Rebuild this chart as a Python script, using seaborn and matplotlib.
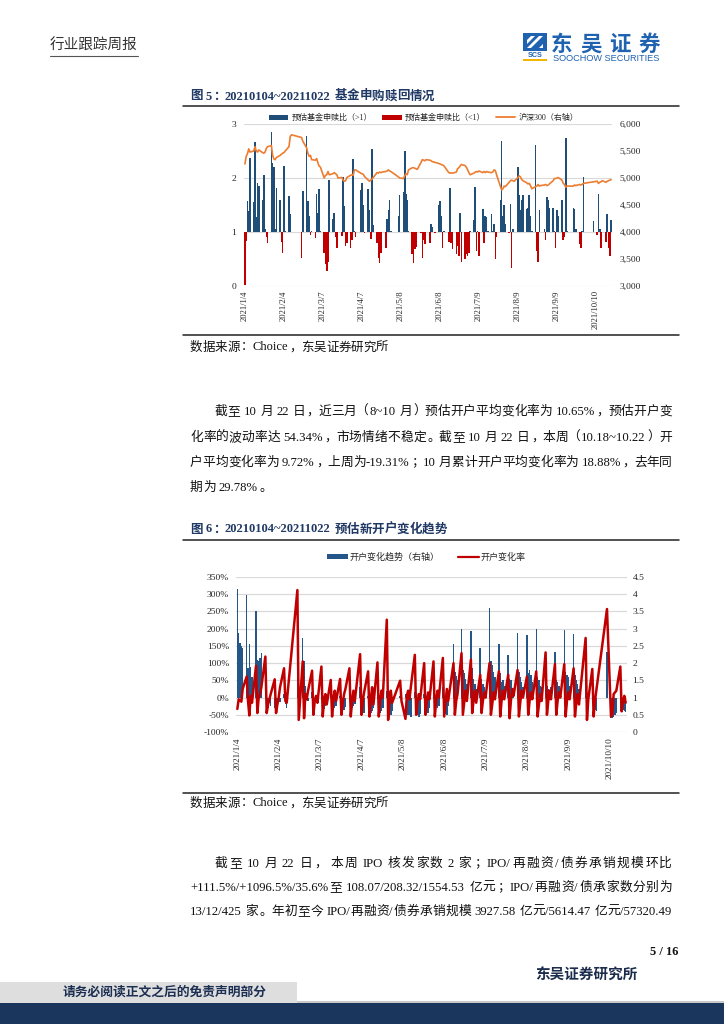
import numpy as np
import pandas as pd
import matplotlib
matplotlib.use("Agg")
import matplotlib.pyplot as plt
import seaborn as sns
from matplotlib.patches import Rectangle, Patch, Polygon
from matplotlib.lines import Line2D
from matplotlib.ticker import FuncFormatter

# ---------------- data ----------------
start_date = "2021-01-04"
end_date = "2021-10-22"
market_holidays = ["2021-02-11", "2021-02-12", "2021-02-15", "2021-02-16", "2021-02-17",
                   "2021-04-05", "2021-05-03", "2021-05-04", "2021-05-05", "2021-06-14",
                   "2021-09-20", "2021-09-21", "2021-10-01", "2021-10-04", "2021-10-05",
                   "2021-10-06", "2021-10-07"]
tick_every_days = 31

# Fig 5: estimated fund subscription/redemption ratio (left axis, baseline 1)
fund_ratio = [
    0.02, 0.84, 1.58, 1.38, 2.37, 1.55, 2.67, 1.28, 1.90, 1.85, 1.60, 2.05, 1.05, 0.90, 0.80, 2.85, 2.27, 2.20, 1.05, 1.81,
    1.60, 0.82, 0.62, 2.22, 1.02, 1.66, 1.33, 1.00, 0.52, 1.76, 2.77, 1.58, 1.30, 0.95, 1.02,
    0.88, 1.70, 1.35, 1.80, 1.02, 0.62, 0.40, 0.27, 0.45, 1.97, 1.25, 1.35, 0.90, 0.70, 1.00, 0.92, 2.02, 1.48, 0.75, 0.80, 0.70, 0.85, 2.35,
    1.02, 0.90, 1.78, 1.90, 1.50, 0.98, 1.80, 1.40, 0.87, 2.53, 1.13, 0.80, 0.52, 0.42, 0.62, 1.00, 0.70, 1.25, 1.40, 1.60, 1.02,
    1.30, 1.68, 1.75, 2.50, 1.70, 1.60, 1.02, 0.60, 0.42, 0.68, 0.72, 1.00, 0.98, 0.52, 0.85, 0.78, 1.00, 0.80,
    1.14, 1.10, 1.00, 0.98, 1.50, 1.58, 1.30, 0.70, 1.02, 0.82, 1.82, 0.80, 0.68, 0.60, 0.75, 0.55, 1.35, 0.45, 0.50, 0.60, 0.55,
    0.62, 1.02, 1.22, 1.84, 0.65, 1.02, 0.55, 1.42, 0.80, 1.30, 1.28, 1.02, 1.34, 1.02, 1.15, 0.50, 0.90, 1.60, 2.69, 1.30, 1.50, 1.15,
    0.98, 1.52, 0.33, 1.05, 1.00, 2.20, 1.68, 1.40, 1.60, 1.68, 1.42, 1.45, 1.68, 1.30, 1.02, 2.62, 0.65, 0.45, 1.40, 1.00, 1.05, 0.85,
    1.65, 1.60, 1.45, 1.45, 1.02, 0.70, 1.40, 1.30, 1.60, 0.85, 0.90, 2.75, 1.02, 1.45, 1.42, 1.05, 0.78, 0.70, 1.02, 2.02,
    1.20, 0.95, 1.70, 1.05, 0.70, 1.00, 0.82, 1.33, 0.70, 0.55, 1.22,
]
# CSI 300 close (right axis)
hs300 = [
    5260, 5400, 5450, 5540, 5480, 5500, 5580, 5500, 5480, 5520, 5470, 5460, 5480, 5550, 5580, 5600, 5420, 5350, 5340, 5380,
    5420, 5440, 5460, 5470, 5500, 5580, 5770, 5800, 5750, 5680, 5560, 5460, 5400, 5420, 5340,
    5330, 5360, 5280, 5220, 5200, 5000, 5050, 5060, 5120, 5060, 5080, 5100, 5080, 5060, 5000, 5010, 4960, 4940, 4950, 5010, 5050, 5060, 5050,
    5150, 5150, 5090, 5080, 5070, 5030, 4960, 4940, 4960, 4980, 5010, 5100, 5090, 5110, 5100, 5110, 5120, 5130, 5150, 5130, 5120,
    5020, 5000, 4990, 5040, 5080, 5060, 5150, 5190, 5190, 5180, 5170, 5160, 5290, 5340, 5330, 5320, 5340, 5330,
    5320, 5300, 5300, 5290, 5270, 5260, 5250, 5240, 5230, 5100, 5090, 5095, 5090, 5110, 5170, 5190, 5220, 5250, 5230, 5200, 5150,
    5100, 5060, 5090, 5110, 5120, 5110, 5130, 5100, 5120, 5100, 5120, 5110, 5100, 5110, 5150, 5140, 5060, 4850, 4780, 4800, 4850, 4840,
    4920, 4950, 4960, 4950, 4940, 5010, 5040, 5020, 4970, 4950, 4910, 4890, 4900, 4860, 4800, 4840, 4850, 4880, 4850, 4860, 4870, 4880,
    4860, 4870, 4890, 4950, 4990, 4990, 5000, 5010, 4960, 4900, 4880, 4830, 4850, 4850, 4870, 4860, 4880, 4870, 4880, 4900,
    4930, 4940, 4900, 4920, 4930, 4950, 4920, 4940, 4950, 4960, 4970,
]
# Fig 6: new-account trend (right axis, baseline 1)
open_trend = [
    4.16, 2.87, 2.58, 2.49, 2.45, 3.98, 1.85, 2.55, 1.90, 1.60, 3.52, 2.10, 2.05, 2.15, 2.28, 1.05, 0.80, 0.70, 0.85, 0.75,
    0.70, 0.68, 0.75, 0.85, 0.88, 1.10, 0.80, 0.70, 3.41, 1.30, 2.73, 2.05, 1.35, 1.10, 0.90,
    1.15, 0.85, 0.80, 0.90, 0.82, 1.05, 0.70, 0.68, 0.75, 0.80, 1.10, 0.65, 0.62, 0.70, 0.75, 1.05, 0.60, 0.58, 0.65, 0.72, 1.10, 0.62, 0.70,
    0.75, 0.80, 1.30, 0.70, 0.60, 0.55, 1.05, 0.58, 0.55, 0.62, 0.70, 1.10, 0.62, 0.55, 0.60, 0.70, 1.20, 0.65, 0.55, 0.48, 0.60,
    1.05, 0.80, 1.10, 0.55, 0.50, 0.48, 0.45, 1.15, 0.55, 0.48, 0.45, 0.52, 1.10, 0.75, 0.65, 0.55, 0.70, 1.15,
    0.80, 0.72, 0.70, 0.75, 1.30, 0.60, 0.52, 0.48, 0.75, 2.56, 1.75, 1.62, 1.50, 2.99, 1.80, 1.70, 1.55, 1.40, 2.94, 1.85, 1.55,
    1.40, 1.25, 2.44, 1.55, 1.40, 1.30, 1.20, 3.60, 2.05, 1.95, 1.75, 1.60, 2.56, 1.70, 1.45, 1.50, 1.35, 2.24, 1.55, 1.50, 1.25, 1.20,
    2.87, 1.75, 1.60, 1.45, 1.30, 2.83, 1.70, 1.80, 1.65, 1.45, 2.99, 1.60, 1.50, 1.35, 1.30, 1.55, 1.35, 1.25, 1.20, 1.30, 2.32, 1.50,
    1.45, 1.35, 1.20, 2.97, 1.75, 1.65, 1.60, 1.35, 2.85, 1.65, 1.50, 1.40, 1.25, 1.85, 0.80, 0.70, 1.10, 0.70, 0.65, 0.62,
    2.31, 0.42, 0.40, 0.45, 0.48, 0.55, 0.70, 0.60, 0.65, 0.62, 0.58,
]
# Fig 6: new-account change rate, % (left axis)
open_rate = [
    -33, -5, -8, -12, 25, 61, -10, -52, 5, -15, 92, -45, 0, 10, 30, 119, -45, -20, -5, 10,
    53, -45, -20, 0, 30, 85, -10, -15, 312, -65, 105, -60, 10, -5, 20,
    78, -50, -10, 5, -15, 90, -55, -5, 10, -20, 51, -55, 0, 20, -10, 54, -50, -15, 10, 25, 85, -55, -10,
    20, -10, 126, -50, -10, 15, 76, -55, -5, 30, -20, 102, -55, -10, 20, 0, 226, -65, -10, 20, -15,
    49, -10, -62, 5, 20, -5, 30, 124, -50, -15, 10, -5, 100, -50, -10, 15, -5, 105,
    -55, -10, 20, 0, 115, -55, -15, 25, -10, 100, -50, -10, 10, 129, -50, -15, 20, -10, 110, -45, -10,
    20, -15, 66, -45, -10, 15, 0, 100, -50, -20, 15, -5, 76, -55, -10, 20, -5, 66, -60, -10, 25, 5,
    80, -55, -15, 20, 0, 61, -50, -10, 15, -5, 76, -55, -20, 10, -10, 131, -50, -10, 20, -5, 97, -50,
    -10, 15, 0, 97, -55, -10, 15, -5, 85, -55, -15, 10, -20, 173, -65, -5, 83, -55, -10, 20,
    257, -55, -50, 10, 15, 20, 90, -40, -10, 5, -15,
]

fig5_title = "图 5：20210104~20211022 基金申购赎回情况"
fig6_title = "图 6：20210104~20211022 预估新开户变化趋势"
fig5_legend = ["预估基金申赎比（>1）", "预估基金申赎比（<1）", "沪深300（右轴）"]
fig6_legend = ["开户变化趋势（右轴）", "开户变化率"]
source_text = "数据来源：Choice，东吴证券研究所"
para1 = ["截至 10 月 22 日，近三月（8~10 月）预估开户平均变化率为 10.65%，预估开户变",
         "化率的波动率达 54.34%，市场情绪不稳定。截至 10 月 22 日，本周（10.18~10.22）开",
         "户平均变化率为 9.72%，上周为-19.31%；10 月累计开户平均变化率为 18.88%，去年同",
         "期为 29.78%。"]
para2 = ["截至 10 月 22 日， 本周 IPO 核发家数 2 家；IPO/再融资/债券承销规模环比",
         "+111.5%/+1096.5%/35.6%至 108.07/208.32/1554.53 亿元；IPO/再融资/债承家数分别为",
         "13/12/425 家。年初至今 IPO/再融资/债券承销规模 3927.58 亿元/5614.47 亿元/57320.49"]

# ---------------- style ----------------
sns.set_theme(style="white")
SERIF = "Liberation Serif"
CJK = "Noto Sans CJK SC"
plt.rcParams["font.family"] = [SERIF, CJK, "DejaVu Sans"]
plt.rcParams["axes.unicode_minus"] = False

NAVY = "#1f4e79"
NAVY2 = "#24568a"
RED = "#c00000"
ORANGE = "#ed7d31"
GRID = "#d9d9d9"
TXT = "#262626"
TITLE = "#1f3864"

W, H = 724, 1024
fig = plt.figure(figsize=(W / 100, H / 100), dpi=100)
fig.patch.set_facecolor("white")
renderer = fig.canvas.get_renderer()


def fx(x):
    return x / W


def fy(y):
    return 1 - y / H


def hline(x0, x1, y, color="#222222", lw=1.1):
    fig.add_artist(Line2D([fx(x0), fx(x1)], [fy(y), fy(y)], transform=fig.transFigure, color=color, lw=lw))


def rect(x0, y0, x1, y1, color):
    fig.add_artist(Rectangle((fx(x0), fy(y1)), (x1 - x0) / W, (y1 - y0) / H,
                             transform=fig.transFigure, facecolor=color, edgecolor="none", lw=0))


def is_cjk(ch):
    return ord(ch) >= 0x2E80


def tokenize(s):
    toks, buf, buf_sp, sp = [], "", False, False
    for ch in s:
        if ch == " ":
            if buf:
                toks.append((buf, buf_sp))
                buf = ""
            sp = True
        elif is_cjk(ch):
            if buf:
                toks.append((buf, buf_sp))
                buf = ""
            toks.append((ch, sp))
            sp = False
        else:
            if not buf:
                buf_sp = sp
                sp = False
            buf += ch
    if buf:
        toks.append((buf, buf_sp))
    return toks


def text_line(s, x0, x1, yc, size=9.2, justify=True, color="#111111", weight="normal"):
    em = size * 100 / 72
    toks = tokenize(s)
    widths = []
    for t, sp in toks:
        if is_cjk(t[0]):
            widths.append(em)
        else:
            tt = fig.text(0, 0, t, fontsize=size, family=SERIF, weight=weight)
            widths.append(tt.get_window_extent(renderer).width + 0.6)
            tt.remove()
    spw = 0.25 * em
    natural = sum(widths) + spw * sum(1 for _, sp in toks if sp)
    gap = (x1 - x0 - natural) / (len(toks) - 1) if (justify and len(toks) > 1) else 0.0
    x = x0
    base = yc + 0.36 * em
    for (t, sp), w in zip(toks, widths):
        if sp:
            x += spw
        if is_cjk(t[0]):
            if t in "，。；：、":
                xp, ha = x + 0.08 * em, "left"
            elif t == "（":
                xp, ha = x + 0.92 * em, "right"
            elif t == "）":
                xp, ha = x + 0.08 * em, "left"
            else:
                xp, ha = x + 0.5 * em, "center"
            fig.text(fx(xp), fy(base), t, fontsize=size, family=CJK, ha=ha, va="baseline",
                     color=color, weight=weight)
        else:
            fig.text(fx(x), fy(base), t, fontsize=size, family=SERIF, ha="left", va="baseline",
                     color=color, weight=weight)
        x += w + gap


# ---------------- dates ----------------
day0 = pd.Timestamp(start_date)
dates = pd.bdate_range(start_date, end_date)
dates = dates[~dates.isin(pd.to_datetime(market_holidays))]
xd = np.asarray((dates - day0).days, dtype=float)
span = (pd.Timestamp(end_date) - day0).days
tick_pos = np.arange(0, span, tick_every_days)
tick_dates = day0 + pd.to_timedelta(tick_pos, unit="D")
tick_lab = [f"{d.year}/{d.month}/{d.day}" for d in tick_dates]

# ---------------- header ----------------
fig.text(fx(50), fy(46), "行业跟踪周报", fontsize=10.5, family=CJK, ha="left", va="center", color="#333333")
hline(50, 138, 56, color="#555555", lw=0.8)

# logo
LOGO = "#1f62b0"
rect(523, 33, 547, 51, LOGO)
fig.add_artist(Polygon([[fx(527), fy(48)], [fx(531), fy(48)], [fx(543), fy(36)], [fx(539), fy(36)]],
                       closed=True, transform=fig.transFigure, facecolor="white", edgecolor="none"))
fig.add_artist(Polygon([[fx(527), fy(40)], [fx(531), fy(36)], [fx(535), fy(36)], [fx(527), fy(44)]],
                       closed=True, transform=fig.transFigure, facecolor="white", edgecolor="none"))
fig.add_artist(Polygon([[fx(543), fy(44)], [fx(543), fy(48)], [fx(539), fy(48)]],
                       closed=True, transform=fig.transFigure, facecolor="white", edgecolor="none"))
fig.text(fx(535), fy(55.5), "SCS", fontsize=5.2, family="Liberation Sans", weight="bold",
         ha="center", va="center", color=LOGO)
rect(523, 59, 547, 61, "#f2b600")
for i, ch in enumerate("东吴证券"):
    fig.text(fx(562 + 29 * i), fy(44), ch, fontsize=15.5, family=CJK, weight="bold",
             ha="center", va="center", color=LOGO)
fig.text(fx(606), fy(58.5), "SOOCHOW SECURITIES", fontsize=6.6, family="Liberation Sans",
         ha="center", va="center", color=LOGO)

# ---------------- figure 5 ----------------
text_line(fig5_title, 190, 0, 95, size=9, justify=False, color=TITLE, weight="bold")
hline(183, 679, 106)

ax1 = fig.add_axes([fx(243.7), fy(286), (612.3 - 243.7) / W, (286 - 124) / H])
r = np.asarray(fund_ratio, dtype=float)
bar_colors = np.where(r >= 1, NAVY, RED)
ax1r = ax1.twinx()
ax1.bar(xd, r - 1, bottom=1, width=1.25, color=bar_colors, linewidth=0)
ax1.set_xlim(-1, span + 1)
ax1.set_ylim(0, 3)
ax1.set_yticks([0, 1, 2, 3])
ax1.yaxis.tick_left()
ax1.yaxis.grid(True, color=GRID, lw=0.8)
ax1.set_axisbelow(True)
ax1.set_xticks(tick_pos)
ax1.set_xticklabels(tick_lab, rotation=90, fontsize=6.2, family=SERIF, color=TXT)
ax1.tick_params(axis="x", length=0, pad=3)
ax1.tick_params(axis="y", length=0, pad=5.5, labelsize=6.8, labelcolor=TXT)
for s in ax1.spines.values():
    s.set_visible(False)

sns.lineplot(x=xd, y=np.asarray(hs300, dtype=float), ax=ax1r, color=ORANGE, lw=1.2)
ax1r.yaxis.tick_right()
ax1r.set_xlim(-1, span + 1)
ax1r.set_ylim(3000, 6000)
ax1r.set_yticks(np.arange(3000, 6001, 500))
ax1r.yaxis.set_major_formatter(FuncFormatter(lambda v, p: f"{v:,.0f}"))
ax1r.tick_params(axis="y", length=0, pad=5.5, labelsize=6.8, labelcolor=TXT)
ax1r.set_xlabel("")
ax1r.set_ylabel("")
ax1r.grid(False)
for s in ax1r.spines.values():
    s.set_visible(False)
for a in (ax1, ax1r):
    for lab in a.get_yticklabels():
        lab.set_family(SERIF)

h5 = [Patch(facecolor=NAVY, edgecolor="none"), Patch(facecolor=RED, edgecolor="none"),
      Line2D([0], [0], color=ORANGE, lw=1.3)]
fig.legend(h5, fig5_legend, loc="center", bbox_to_anchor=(fx(423.5), fy(118)), ncol=3, frameon=False,
           prop={"family": [SERIF, CJK], "size": 5.8}, handlelength=2.4, handleheight=0.6,
           handletextpad=0.4, columnspacing=1.3, borderpad=0, borderaxespad=0, labelcolor=TXT)

hline(183, 679, 335)
text_line(source_text, 190, 0, 346, size=9, justify=False, color="#111111")

# ---------------- paragraph 1 ----------------
p1_y = [410, 436, 461, 486]
for i, line in enumerate(para1):
    x0 = 215 if i == 0 else 190
    text_line(line, x0, 672, p1_y[i], size=9.2, justify=(i < len(para1) - 1))

# ---------------- figure 6 ----------------
text_line(fig6_title, 190, 0, 528, size=9, justify=False, color=TITLE, weight="bold")
hline(183, 679, 540)

ax2 = fig.add_axes([fx(236), fy(732), 391 / W, 155 / H])
ax2l = ax2.twinx()
b = np.asarray(open_trend, dtype=float)
ax2.bar(xd, b - 1, bottom=1, width=1.1, color=NAVY2, linewidth=0)
ax2.set_xlim(-1, span + 1)
ax2.set_ylim(0, 4.5)
ax2.set_yticks(np.arange(0, 4.51, 0.5))
ax2.yaxis.set_major_formatter(FuncFormatter(lambda v, p: f"{v:g}"))
ax2.yaxis.tick_right()
ax2.yaxis.grid(True, color=GRID, lw=0.9)
ax2.set_axisbelow(True)
ax2.set_xticks(tick_pos)
ax2.set_xticklabels(tick_lab, rotation=90, fontsize=6.6, family=SERIF, color=TXT)
ax2.tick_params(axis="x", length=0, pad=4)
ax2.tick_params(axis="y", length=0, pad=4, labelsize=6.8, labelcolor=TXT)
for s in ax2.spines.values():
    s.set_visible(False)

sns.lineplot(x=xd, y=np.asarray(open_rate, dtype=float), ax=ax2l, color=RED, lw=1.8)
ax2l.yaxis.tick_left()
ax2l.yaxis.set_label_position("left")
ax2l.set_xlim(-1, span + 1)
ax2l.set_ylim(-100, 350)
ax2l.set_yticks(np.arange(-100, 351, 50))
ax2l.yaxis.set_major_formatter(FuncFormatter(lambda v, p: f"{v:.0f}%"))
ax2l.tick_params(axis="y", length=0, pad=5, labelsize=6.8, labelcolor=TXT)
ax2l.set_xlabel("")
ax2l.set_ylabel("")
ax2l.grid(False)
for s in ax2l.spines.values():
    s.set_visible(False)
for a in (ax2, ax2l):
    for lab in a.get_yticklabels():
        lab.set_family(SERIF)

h6 = [Patch(facecolor=NAVY2, edgecolor="none"), Line2D([0], [0], color=RED, lw=1.6)]
fig.legend(h6, fig6_legend, loc="center", bbox_to_anchor=(fx(426.5), fy(557)), ncol=2, frameon=False,
           prop={"family": [SERIF, CJK], "size": 6.5}, handlelength=2.3, handleheight=0.6,
           handletextpad=0.2, columnspacing=2.0, borderpad=0, borderaxespad=0, labelcolor=TXT)

hline(183, 679, 793)
text_line(source_text, 190, 0, 802, size=9, justify=False, color="#111111")

# ---------------- paragraph 2 ----------------
p2_y = [862, 886, 910]
for i, line in enumerate(para2):
    x0 = 215 if i == 0 else 190
    text_line(line, x0, 672, p2_y[i], size=9.2, justify=True)

# ---------------- footer ----------------
fig.text(fx(678), fy(952), "5 / 16", fontsize=9, family=SERIF, weight="bold", ha="right", va="center",
         color="#111111")
fig.text(fx(638), fy(975), "东吴证券研究所", fontsize=10.5, family=CJK, weight="bold", ha="right",
         va="center", color="#1c2c4c")
rect(0, 982, 297, 1003, "#dedede")
rect(297, 1001, 724, 1003, "#c9c9c9")
rect(0, 1003, 724, 1024, "#1b365d")
fig.text(fx(165), fy(992.5), "请务必阅读正文之后的免责声明部分", fontsize=9.2, family=CJK, weight="bold",
         ha="center", va="center", color="#1c2f52")

fig.savefig("out.png", dpi=100, facecolor="white")
